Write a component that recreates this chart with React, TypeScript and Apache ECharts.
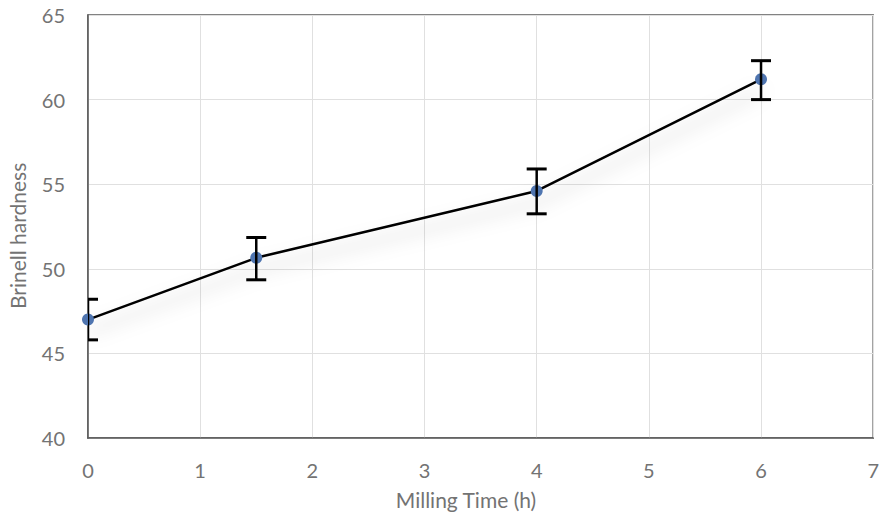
import React, { useEffect, useRef } from "react";
import * as echarts from "echarts";

const millingTime = [0, 1.5, 4, 6];
const hardness = [47.0, 50.65, 54.6, 61.2];
const errorPlus = [1.2, 1.2, 1.3, 1.1];
const errorMinus = [1.2, 1.3, 1.35, 1.2];
const xTitle = "Milling Time (h)";
const yTitle = "Brinell hardness";

export default function App() {
  const ref = useRef<HTMLDivElement>(null);
  useEffect(() => {
    if (!ref.current) return;
    const chart = echarts.init(ref.current, null, { renderer: "svg" });
    const font = "Lato, 'Open Sans', sans-serif";
    const lineData = millingTime.map((x, i) => [x, hardness[i]]);
    const errData = millingTime.map((x, i) => [x, hardness[i] - errorMinus[i], hardness[i] + errorPlus[i]]);
    chart.setOption({
      animation: false,
      backgroundColor: "#ffffff",
      grid: { left: 88, right: 6, top: 15, bottom: 82, show: true, borderColor: "#595959", borderWidth: 1.5 },
      xAxis: {
        type: "value",
        min: 0,
        max: 7,
        interval: 1,
        axisLine: { show: true, lineStyle: { color: "#595959", width: 1.5 } },
        axisTick: { show: false },
        axisLabel: { color: "#737373", fontSize: 20, fontFamily: font, margin: 22 },
        splitLine: { show: true, lineStyle: { color: "#e0e0e0", width: 1 } },
      },
      yAxis: {
        type: "value",
        min: 40,
        max: 65,
        interval: 5,
        axisLine: { show: true, lineStyle: { color: "#595959", width: 1.5 } },
        axisTick: { show: false },
        axisLabel: { color: "#737373", fontSize: 20, fontFamily: font, margin: 23 },
        splitLine: { show: true, lineStyle: { color: "#e0e0e0", width: 1 } },
      },
      graphic: [
        {
          type: "text",
          x: 466,
          y: 489,
          style: { text: xTitle, fill: "#737373", font: `21px ${font}`, textAlign: "center" },
        },
        {
          type: "text",
          x: 7,
          y: 309,
          rotation: Math.PI / 2,
          style: { text: yTitle, fill: "#737373", font: `21px ${font}` },
        },
      ],
      series: [
        {
          type: "line",
          data: lineData,
          symbol: "circle",
          symbolSize: 12,
          lineStyle: {
            color: "#000000",
            width: 2.5,
            shadowColor: "rgba(0,0,0,0.28)",
            shadowBlur: 18,
            shadowOffsetY: 12,
          },
          itemStyle: { color: "#4f75b0" },
          z: 3,
        },
        {
          type: "custom",
          data: errData,
          z: 4,
          clip: true,
          renderItem: (params: any, api: any) => {
            const x = api.value(0);
            const lo = api.coord([x, api.value(1)]);
            const hi = api.coord([x, api.value(2)]);
            const hw = 10;
            const style = { stroke: "#000000", lineWidth: 2.5 };
            return {
              type: "group",
              children: [
                { type: "line", shape: { x1: hi[0], y1: hi[1], x2: lo[0], y2: lo[1] }, style },
                { type: "line", shape: { x1: hi[0] - hw, y1: hi[1], x2: hi[0] + hw, y2: hi[1] }, style: { stroke: "#000", lineWidth: 3 } },
                { type: "line", shape: { x1: lo[0] - hw, y1: lo[1], x2: lo[0] + hw, y2: lo[1] }, style: { stroke: "#000", lineWidth: 3 } },
              ],
            };
          },
        },
      ],
    });
    return () => chart.dispose();
  }, []);
  return <div ref={ref} style={{ width: 882, height: 520, position: "absolute", left: 0, top: 0 }} />;
}
